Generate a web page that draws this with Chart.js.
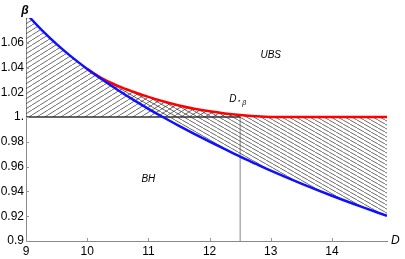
<!DOCTYPE html>
<html>
<head>
<meta charset="utf-8">
<script src="https://cdn.jsdelivr.net/npm/chart.js@4/dist/chart.umd.min.js"></script>
<style>
html,body{margin:0;padding:0;background:#fff;}
#wrap{width:405px;height:259px;position:relative;}
</style>
</head>
<body>
<div id="wrap"><canvas id="c" width="405" height="259"></canvas></div>
<script>
// ---- data ----
const xs     = [9, 9.07, 9.25, 9.5, 9.75, 10, 10.25, 10.5, 10.75, 11, 11.25, 11.5, 11.75, 12, 12.25, 12.5, 12.75, 13, 13.5, 14, 14.5, 14.9];
const blueBH = [1.0839, 1.0800, 1.0706, 1.0589, 1.0484, 1.0389, 1.0301, 1.0219, 1.0141, 1.0067, 0.9997, 0.9930, 0.9865, 0.9802, 0.9741, 0.9681, 0.9624, 0.9568, 0.9463, 0.9365, 0.9273, 0.9203];
const redUBS = [null, null, null, null, null, 1.0389, 1.0310, 1.0252, 1.0205, 1.0163, 1.0126, 1.0094, 1.0068, 1.0047, 1.0030, 1.0017, 1.0007, 1.0001, 1.0, 1.0, 1.0, 1.0];
const betaOne = 1.0;
const dStar = 12.5;
const xMin = 9, xMax = 14.9;
const yMin = 0.9, yMax = 1.08;
const xTicks = [9, 10, 11, 12, 13, 14];
const yTickLabels = ["0.9", "0.92", "0.94", "0.96", "0.98", "1.", "1.02", "1.04", "1.06"];
const regionLabels = [
  {text: "UBS", x: 13.0, y: 1.05},
  {text: "BH", x: 11.0, y: 0.95}
];
const dLabel = {x: 12.32, y: 1.0153};

// ---- derived series ----
const bluePts = xs.map((x, i) => ({x, y: blueBH[i]}));
const redPts = xs.map((x, i) => ({x, y: redUBS[i]}));
const envPts = xs.map((x, i) => ({x, y: redUBS[i] == null ? blueBH[i] : Math.max(redUBS[i], blueBH[i])}));
const dRed = redUBS[xs.indexOf(dStar)];

const FONT = '"Liberation Sans", Arial, sans-serif';

function hatch(W, H, dir, color, lw) {
  const c = document.createElement('canvas');
  c.width = W; c.height = H;
  const g = c.getContext('2d');
  g.strokeStyle = color; g.lineWidth = lw;
  g.beginPath();
  for (let k = -1; k <= 1; k++) {
    if (dir === '/') { g.moveTo(k * W, H); g.lineTo(k * W + W, 0); }
    else { g.moveTo(k * W, 0); g.lineTo(k * W + W, H); }
  }
  g.stroke();
  return document.getElementById('c').getContext('2d').createPattern(c, 'repeat');
}
const patA = hatch(8, 5, '/', 'rgba(50,50,50,0.9)', 0.8);
const patB = hatch(7, 4, '\\', 'rgba(50,50,50,0.9)', 0.8);

const decor = {
  id: 'decor',
  afterDraw(chart) {
    const ctx = chart.ctx, xs_ = chart.scales.x, ys_ = chart.scales.y;
    const ca = chart.chartArea;
    ctx.save();
    ctx.strokeStyle = '#999'; ctx.lineWidth = 1;
    ctx.beginPath();
    xTicks.forEach(v => { const p = Math.round(xs_.getPixelForValue(v)) + 0.5; ctx.moveTo(p, ca.bottom); ctx.lineTo(p, ca.bottom - 3); });
    ys_.ticks.forEach(t => { if (t.value > yMax - 0.01) return; const p = Math.round(ys_.getPixelForValue(t.value)) + 0.5; ctx.moveTo(ca.left, p); ctx.lineTo(ca.left + 3, p); });
    ctx.stroke();
    ctx.fillStyle = '#000';
    ctx.font = 'bold italic 12px ' + FONT;
    ctx.textAlign = 'center'; ctx.textBaseline = 'middle';
    ctx.fillText('β', ca.left - 1, 11);
    ctx.font = 'italic 12px ' + FONT;
    ctx.textAlign = 'left';
    ctx.fillText('D', ca.right + 4, ca.bottom);
    ctx.font = 'italic 10px ' + FONT;
    ctx.textAlign = 'center';
    regionLabels.forEach(l => ctx.fillText(l.text, xs_.getPixelForValue(l.x), ys_.getPixelForValue(l.y)));
    const lx = xs_.getPixelForValue(dLabel.x), ly = ys_.getPixelForValue(dLabel.y);
    ctx.textAlign = 'left'; ctx.textBaseline = 'alphabetic';
    ctx.font = 'italic 10px ' + FONT;
    ctx.fillText('D', lx, ly + 4);
    const w = ctx.measureText('D').width;
    ctx.font = '7px ' + FONT;
    ctx.fillText('⋆', lx + w + 1, ly + 5);
    ctx.font = 'italic 7px ' + FONT;
    ctx.fillText('β', lx + w + 6, ly + 7);
    ctx.restore();
  }
};

new Chart(document.getElementById('c'), {
  type: 'line',
  data: {
    datasets: [
      { label: 'env', data: envPts, borderWidth: 0, borderColor: 'rgba(0,0,0,0)', pointRadius: 0,
        fill: {value: betaOne}, backgroundColor: patA, cubicInterpolationMode: 'monotone', order: 5 },
      { label: 'BH', data: bluePts, borderColor: '#1010ff', borderWidth: 2.5, pointRadius: 0,
        fill: false, cubicInterpolationMode: 'monotone', order: 0 },
      { label: 'UBS', data: redPts, borderColor: '#ff0000', borderWidth: 2.5, pointRadius: 0,
        fill: 1, backgroundColor: patB, cubicInterpolationMode: 'monotone', spanGaps: false, order: 1 },
      { label: 'one', data: [{x: xMin, y: betaOne}, {x: dStar, y: betaOne}], borderColor: '#333', borderWidth: 1.5,
        pointRadius: 0, fill: false, order: 2 },
      { label: 'dstar', data: [{x: dStar, y: yMin}, {x: dStar, y: dRed}], borderColor: '#888', borderWidth: 1,
        pointRadius: 0, fill: false, order: 3 }
    ]
  },
  options: {
    responsive: false,
    animation: false,
    layout: { padding: { top: 18, right: 18, left: 0, bottom: 0 } },
    plugins: { legend: { display: false }, tooltip: { enabled: false } },
    scales: {
      x: {
        type: 'linear', min: xMin, max: xMax,
        afterFit: s => { s.height = 18; },
        grid: { display: false, drawTicks: false },
        border: { display: true, color: '#888', width: 1 },
        ticks: { stepSize: 1, includeBounds: false, padding: 3, color: '#000', maxRotation: 0,
          font: { family: FONT, size: 12 },
          callback: v => xTicks.includes(v) ? String(v) : null }
      },
      y: {
        type: 'linear', min: yMin, max: yMax,
        afterFit: s => { s.width = 26; },
        grid: { display: false, drawTicks: false },
        border: { display: true, color: '#888', width: 1 },
        ticks: { stepSize: 0.02, includeBounds: false, padding: 2, color: '#000',
          font: { family: FONT, size: 12 },
          callback: v => { const k = Math.round((v - yMin) / 0.02); return k >= 0 && k < yTickLabels.length ? yTickLabels[k] : null; } }
      }
    }
  },
  plugins: [decor]
});
</script>
</body>
</html>
